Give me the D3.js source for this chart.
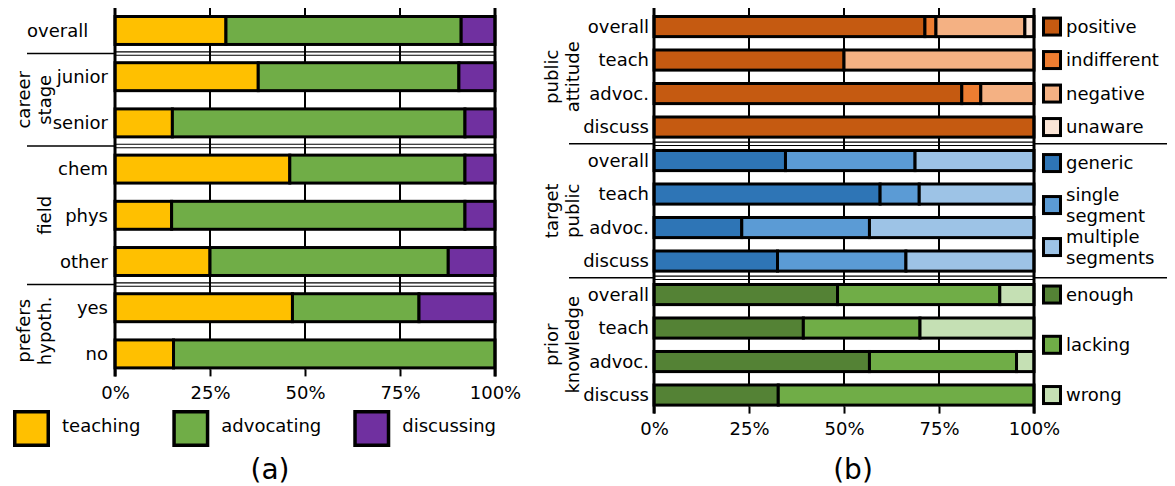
<!DOCTYPE html>
<html>
<head>
<meta charset="utf-8">
<script src="https://cdn.jsdelivr.net/npm/d3@7"></script>
<style>
html, body { margin: 0; padding: 0; background: #fff; }
svg { display: block; font-family: "DejaVu Sans", Verdana, sans-serif; }
</style>
</head>
<body>
<svg id="chart" width="1175" height="486"></svg>
<script>
// ---------------- DATA ----------------
// Panel (a)
const leftCategories = ["overall", "junior", "senior", "chem", "phys", "other", "yes", "no"];
const leftGroupNames = [[], ["career", "stage"], ["field"], ["prefers", "hypoth."]];
const leftGroupSizes = [1, 2, 3, 2];
const activitySeries = ["teaching", "advocating", "discussing"];
const activityColors = ["#FFC000", "#70AD47", "#7030A0"];
const teaching   = [29.2, 37.7, 15.1, 46.0, 14.9, 25.0, 46.7, 15.4];
const advocating = [61.9, 52.8, 77.0, 46.1, 77.2, 62.7, 33.3, 84.6];
const discussing = [ 8.9,  9.5,  7.9,  7.9,  7.9, 12.3, 20.0,  0.0];

// Panel (b)
const rightCategories = ["overall", "teach", "advoc.", "discuss"];
const rightGroupNames = [["public", "attitude"], ["target", "public"], ["prior", "knowledge"]];

const attitudeSeries = ["positive", "indifferent", "negative", "unaware"];
const attitudeColors = ["#C55A11", "#ED7D31", "#F4B183", "#FBE5D6"];
const positive    = [71.3, 50.0, 81.0, 100.0];
const indifferent = [ 2.9,  0.0,  5.0,   0.0];
const negative    = [23.4, 50.0, 14.0,   0.0];
const unaware     = [ 2.4,  0.0,  0.0,   0.0];

const publicSeries = ["generic", "single segment", "multiple segments"];
const publicColors = ["#2E75B6", "#5B9BD5", "#9DC3E6"];
const generic          = [34.6, 59.5, 23.1, 32.5];
const singleSegment    = [34.1, 10.3, 33.6, 33.8];
const multipleSegments = [31.3, 30.2, 43.3, 33.7];

const knowledgeSeries = ["enough", "lacking", "wrong"];
const knowledgeColors = ["#548235", "#70AD47", "#C5E0B4"];
const enough  = [48.3, 39.3, 56.7, 32.7];
const lacking = [42.7, 30.7, 38.7, 67.3];
const wrong   = [ 9.0, 30.0,  4.6,  0.0];

const tickValues = [0, 25, 50, 75, 100];
const tickLabels = ["0%", "25%", "50%", "75%", "100%"];

// ---------------- DRAWING ----------------
const svg = d3.select("#chart");
const FS = 18;

function drawPanel(o) {
  const root = svg.append("g");
  const x = d3.scaleLinear().domain([0, 100]).range(o.xRange);
  const nRows = d3.sum(o.groups, g => g.categories.length);
  const y = d3.scaleBand().domain(d3.range(nRows)).range(o.yRange)
    .paddingInner(o.pad).paddingOuter(0);
  const bw = y.bandwidth();
  const gap = y.step() - bw;
  const top = o.yRange[0] - 7;
  const bottom = o.yRange[1];

  let start = 0;
  o.groups.forEach(g => {
    g.first = start;
    g.last = start + g.categories.length - 1;
    start += g.categories.length;
  });

  // group separators
  const sepLayer = root.append("g");
  o.groups.forEach((g, gi) => {
    if (gi === 0) return;
    const sy = y(g.first) - gap / 2;
    sepLayer.append("line").attr("x1", o.sepX[0]).attr("x2", x(0))
      .attr("y1", sy).attr("y2", sy).attr("stroke", "#000").attr("stroke-width", 1.5);
    if (o.sepX[1] > x(100)) {
      sepLayer.append("line").attr("x1", x(100)).attr("x2", o.sepX[1])
        .attr("y1", sy).attr("y2", sy).attr("stroke", "#000").attr("stroke-width", 1.5);
    }
    [-1.7, 1.7].forEach(dy => {
      sepLayer.append("line").attr("x1", x(0)).attr("x2", x(100))
        .attr("y1", sy + dy).attr("y2", sy + dy)
        .attr("stroke", "#000").attr("stroke-width", 1.1);
    });
  });

  // gridlines
  root.append("g").selectAll("line.grid").data(tickValues).join("line")
    .attr("class", "grid")
    .attr("x1", d => x(d)).attr("x2", d => x(d))
    .attr("y1", top).attr("y2", bottom)
    .attr("stroke", "#000").attr("stroke-width", 2);

  // bottom axis
  const axis = d3.axisBottom(x).tickValues(tickValues)
    .tickFormat((d, i) => tickLabels[i]).tickSize(7).tickPadding(o.tickPad);
  const ax = root.append("g").attr("transform", `translate(0,${bottom})`).call(axis);
  ax.select(".domain").remove();
  ax.selectAll(".tick line").attr("stroke", "#000").attr("stroke-width", 2);
  ax.selectAll(".tick text").attr("fill", "#000").attr("font-size", FS)
    .attr("font-family", "DejaVu Sans, Verdana, sans-serif");

  // bars
  const barLayer = root.append("g");
  o.groups.forEach(g => {
    const rows = g.categories.map((c, j) => {
      const r = {};
      g.series.forEach((s, k) => { r[s] = g.values[k][j]; });
      return r;
    });
    const stacked = d3.stack().keys(g.series)(rows);
    stacked.forEach((layer, k) => {
      const segs = layer.map((d, j) => ({ a: d[0], b: d[1], row: g.first + j }))
        .filter(d => d.b - d.a > 0);
      barLayer.append("g").selectAll("rect").data(segs).join("rect")
        .attr("x", d => x(d.a))
        .attr("width", d => x(d.b) - x(d.a))
        .attr("y", d => y(d.row) + o.stroke / 2)
        .attr("height", bw - o.stroke)
        .attr("fill", g.colors[k])
        .attr("stroke", "#000")
        .attr("stroke-width", o.stroke);
    });
  });

  // frame edges
  root.append("g").selectAll("line").data([0, 100]).join("line")
    .attr("x1", d => x(d)).attr("x2", d => x(d))
    .attr("y1", top).attr("y2", bottom + 7)
    .attr("stroke", "#000").attr("stroke-width", 3);

  // row labels
  o.groups.forEach(g => {
    const unnamed = !g.name.length && o.unnamedLabelX != null;
    g.categories.forEach((c, j) => {
      root.append("text").attr("x", unnamed ? o.unnamedLabelX : x(0) - o.labelGap)
        .attr("y", y(g.first + j) + bw / 2).attr("dy", "0.35em")
        .attr("text-anchor", unnamed ? "start" : "end")
        .attr("font-size", FS).attr("fill", "#000")
        .text(c);
    });
  });

  // group labels (rotated)
  o.groups.forEach(g => {
    if (!g.name.length) return;
    const cy = (y(g.first) + y(g.last) + bw) / 2;
    const xs = g.name.length === 2 ? o.groupX : [o.groupX[1]];
    g.name.forEach((line, li) => {
      root.append("text")
        .attr("transform", `translate(${xs[li]},${cy}) rotate(-90)`)
        .attr("dy", "0.35em").attr("text-anchor", "middle")
        .attr("font-size", FS).attr("fill", "#000").text(line);
    });
  });

  return { x, y, bw };
}

// ---- panel (a)
const leftGroups = [];
let li0 = 0;
leftGroupSizes.forEach((n, gi) => {
  const idx = d3.range(li0, li0 + n);
  leftGroups.push({
    name: leftGroupNames[gi],
    categories: idx.map(i => leftCategories[i]),
    series: activitySeries,
    colors: activityColors,
    values: [teaching, advocating, discussing].map(arr => idx.map(i => arr[i]))
  });
  li0 += n;
});

drawPanel({
  groups: leftGroups,
  xRange: [115, 495],
  yRange: [15, 369.4],
  pad: 0.33,
  stroke: 3,
  sepX: [27, 495],
  labelGap: 7,
  unnamedLabelX: 27,
  groupX: [24, 45],
  tickPad: 10
});

// ---- panel (b)
const rightGroups = [
  { name: rightGroupNames[0], categories: rightCategories, series: attitudeSeries,
    colors: attitudeColors, values: [positive, indifferent, negative, unaware] },
  { name: rightGroupNames[1], categories: rightCategories, series: publicSeries,
    colors: publicColors, values: [generic, singleSegment, multipleSegments] },
  { name: rightGroupNames[2], categories: rightCategories, series: knowledgeSeries,
    colors: knowledgeColors, values: [enough, lacking, wrong] }
];

const R = drawPanel({
  groups: rightGroups,
  xRange: [654, 1034],
  yRange: [15, 406.6],
  pad: 0.31,
  stroke: 3,
  sepX: [569, 1167],
  labelGap: 5,
  groupX: [552, 573],
  tickPad: 8.5
});

// ---- legend (b)
const legendInsets = [[0, 0], [2.5, -14], [0, 0]];
rightGroups.forEach((g, gi) => {
  const c0 = R.y(g.first) + R.bw / 2 + legendInsets[gi][0];
  const c1 = R.y(g.last) + R.bw / 2 + legendInsets[gi][1];
  const n = g.series.length;
  g.series.forEach((s, k) => {
    const cy = c0 + (n === 1 ? 0 : k * (c1 - c0) / (n - 1));
    svg.append("rect").attr("x", 1043.5).attr("y", cy - 8.5)
      .attr("width", 17).attr("height", 17)
      .attr("fill", g.colors[k]).attr("stroke", "#000").attr("stroke-width", 3);
    const words = s.split(" ");
    const t = svg.append("text").attr("x", 1066).attr("font-size", FS).attr("fill", "#000");
    if (words.length === 1) {
      t.attr("y", cy).attr("dy", "0.35em").text(s);
    } else {
      words.forEach((w, wi) => {
        t.append("tspan").attr("x", 1066).attr("y", cy + (wi === 0 ? -10.5 : 10.5))
          .attr("dy", "0.35em").text(w);
      });
    }
  });
});

// ---- legend (a)
let lx = 13;
activitySeries.forEach((s, k) => {
  svg.append("rect").attr("x", lx + 1.75).attr("y", 411.75)
    .attr("width", 33.5).attr("height", 33.5)
    .attr("fill", activityColors[k]).attr("stroke", "#000").attr("stroke-width", 3.5);
  const t = svg.append("text").attr("x", lx + 49).attr("y", 432)
    .attr("font-size", FS).attr("fill", "#000").text(s);
  lx = lx + 49 + t.node().getComputedTextLength() + 32;
});

// ---- captions
svg.append("text").attr("x", 270).attr("y", 479).attr("text-anchor", "middle")
  .attr("font-size", 28).attr("fill", "#000").text("(a)");
svg.append("text").attr("x", 853).attr("y", 479).attr("text-anchor", "middle")
  .attr("font-size", 28).attr("fill", "#000").text("(b)");
</script>
</body>
</html>
